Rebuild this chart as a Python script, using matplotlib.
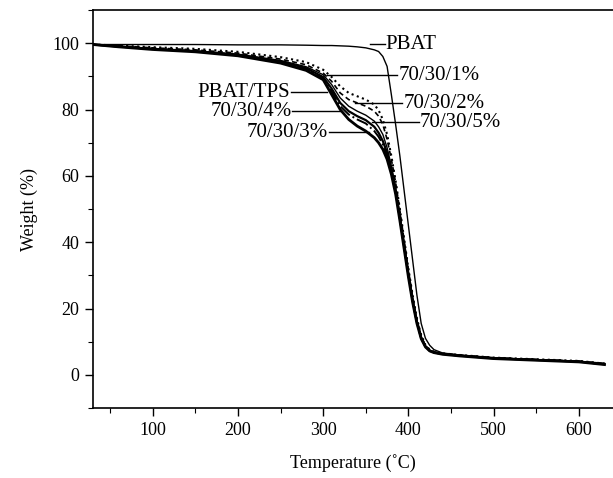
# TGA curves of PBAT and PBAT/TPS blends
import matplotlib
matplotlib.use("Agg")
import matplotlib.pyplot as plt
from matplotlib.ticker import MultipleLocator

plt.rcParams['font.family'] = ['Liberation Serif', 'DejaVu Serif']
plt.rcParams['font.size'] = 13

temp = [30, 60, 100, 150, 200, 250, 280, 300, 310, 320, 330, 340, 350, 360,
        365, 370, 375, 380, 385, 390, 395, 400, 405, 410, 415, 420, 425, 430,
        440, 460, 500, 550, 600, 630]

pbat = [99.6, 99.6, 99.6, 99.6, 99.5, 99.5, 99.4, 99.3, 99.3, 99.2, 99.1, 98.9, 98.6, 98.0,
        97.5, 96.0, 93.0, 84.5, 75.5, 66.0, 55.5, 45.0, 34.5, 24.0, 15.5, 11.0, 8.9, 7.6,
        6.6, 6.0, 5.2, 4.6, 4.1, 3.5]
blend_1 = [99.6, 99.3, 98.8, 98.3, 97.4, 95.8, 94.3, 92.0, 89.8, 87.0, 85.0, 84.0, 83.0, 81.5,
           79.8, 77.0, 72.5, 66.0, 58.5, 50.0, 41.0, 32.0, 24.0, 17.0, 12.0, 9.0, 7.6, 7.0,
           6.5, 6.0, 5.2, 4.7, 4.2, 3.4]
blend_2 = [99.6, 99.2, 98.6, 98.0, 97.0, 95.2, 93.5, 91.0, 88.5, 85.0, 83.0, 82.0, 81.0, 79.5,
           78.0, 75.5, 71.0, 65.0, 58.0, 49.5, 40.5, 31.5, 23.5, 16.5, 11.7, 8.8, 7.5, 6.9,
           6.4, 5.9, 5.1, 4.6, 4.1, 3.3]
blend_5 = [99.6, 99.1, 98.4, 97.7, 96.7, 94.8, 92.9, 90.5, 87.5, 83.5, 81.0, 79.5, 78.3, 76.5,
           74.8, 72.5, 68.5, 63.0, 56.5, 48.5, 40.0, 31.0, 23.0, 16.3, 11.5, 8.7, 7.4, 6.8,
           6.4, 5.9, 5.1, 4.6, 4.1, 3.3]
pbat_tps = [99.6, 99.0, 98.3, 97.6, 96.5, 94.5, 92.5, 89.8, 86.3, 82.0, 79.5, 78.0, 76.8, 74.8,
            73.0, 70.5, 67.0, 62.0, 55.5, 47.5, 39.0, 30.5, 22.5, 16.0, 11.2, 8.6, 7.3, 6.8,
            6.3, 5.8, 5.0, 4.5, 4.0, 3.2]
blend_4 = [99.6, 99.0, 98.2, 97.5, 96.4, 94.3, 92.2, 89.5, 85.5, 81.0, 78.5, 77.0, 75.8, 73.5,
           71.8, 69.5, 66.0, 61.0, 55.0, 47.0, 38.5, 30.0, 22.0, 15.7, 11.0, 8.5, 7.3, 6.7,
           6.3, 5.8, 5.0, 4.5, 4.0, 3.2]
blend_3 = [99.6, 98.9, 98.1, 97.4, 96.2, 94.0, 91.8, 89.0, 84.5, 80.0, 77.0, 75.0, 73.5, 71.5,
           70.0, 68.0, 65.0, 60.5, 54.5, 46.5, 38.0, 29.5, 21.8, 15.5, 10.9, 8.4, 7.2, 6.7,
           6.2, 5.7, 4.9, 4.4, 3.9, 3.1]

fig = plt.figure(figsize=(6.13, 4.78), dpi=100)
ax = fig.add_axes([0.1517, 0.1464, 0.8483, 0.8326])

ax.plot(temp, pbat, color='black', lw=1.0, ls='-')
ax.plot(temp, blend_1, color='black', lw=1.5, ls=':')
ax.plot(temp, blend_2, color='black', lw=1.2, ls=(0, (3, 2)))
ax.plot(temp, blend_5, color='black', lw=1.0, ls='-')
ax.plot(temp, pbat_tps, color='black', lw=1.6, ls='-')
ax.plot(temp, blend_4, color='black', lw=1.4, ls='-.')
ax.plot(temp, blend_3, color='black', lw=2.0, ls='-')

# labels with leader lines: (text, x text, y, x line start, x line end, align)
labels = [
    ('PBAT', 373, 99.7, 355, 372, 'left'),
    ('70/30/1%', 388, 90.3, 304, 387, 'left'),
    ('70/30/2%', 394, 81.9, 337, 393, 'left'),
    ('70/30/5%', 413, 76.1, 357, 412, 'left'),
    ('PBAT/TPS', 261, 85.2, 262, 304, 'right'),
    ('70/30/4%', 263, 79.5, 264, 320, 'right'),
    ('70/30/3%', 305, 73.1, 307, 354, 'right'),
]
for txt, xt, y, x0, x1, ha in labels:
    ax.plot([x0, x1], [y, y], color='black', lw=1.0)
    ax.text(xt, y, txt, ha=ha, va='center', fontsize=15)

ax.set_xlim(30, 640)
ax.set_ylim(-10, 110)
ax.xaxis.set_major_locator(MultipleLocator(100))
ax.xaxis.set_minor_locator(MultipleLocator(50))
ax.yaxis.set_major_locator(MultipleLocator(20))
ax.yaxis.set_minor_locator(MultipleLocator(10))
ax.tick_params(which='major', direction='out', length=6, width=1.0, pad=4)
ax.tick_params(which='minor', direction='out', length=3.5, width=0.8)
ax.spines['right'].set_visible(False)
for s in ['left', 'bottom', 'top']:
    ax.spines[s].set_linewidth(1.2)

ax.set_xlabel('Temperature (˚C)', fontsize=13, labelpad=11)
ax.set_ylabel('Weight (%)', fontsize=13, labelpad=10)

fig.savefig('out.png', dpi=100)
